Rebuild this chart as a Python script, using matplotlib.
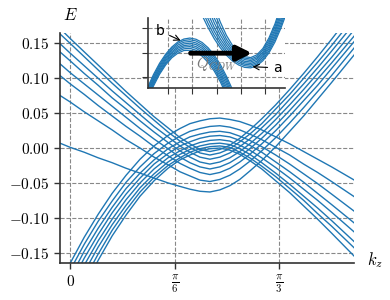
import numpy as np
import matplotlib
matplotlib.use("Agg")
import matplotlib.pyplot as plt

plt.rcParams['mathtext.fontset'] = 'cm'
plt.rcParams['font.family'] = ['DejaVu Sans']

# ---- main panel data: k_z grid and band energies E(k_z) ----
kz = [-0.06, 0.0, 0.07, 0.14, 0.21, 0.28, 0.35, 0.42, 0.49, 0.55, 0.60, 0.65, 0.70,
      0.75, 0.80, 0.85, 0.90, 0.96, 1.03, 1.10, 1.17, 1.24, 1.31, 1.43]

# bands coming down from the upper left and rising to the upper right
up0 = [0.008, 0.001, -0.006, -0.014, -0.021, -0.029, -0.036, -0.043, -0.050, -0.055, -0.059, -0.062, -0.063,
       -0.060, -0.054, -0.045, -0.033, -0.018, 0.002, 0.024, 0.046, 0.070, 0.094, 0.136]
up1 = [0.077, 0.066, 0.052, 0.039, 0.026, 0.012, 0.000, -0.013, -0.024, -0.034, -0.040, -0.046, -0.048,
       -0.045, -0.039, -0.030, -0.019, -0.004, 0.015, 0.036, 0.058, 0.081, 0.104, 0.146]
up2 = [0.106, 0.092, 0.077, 0.061, 0.046, 0.031, 0.017, 0.002, -0.011, -0.022, -0.029, -0.035, -0.038,
       -0.035, -0.029, -0.020, -0.009, 0.006, 0.025, 0.046, 0.068, 0.090, 0.114, 0.155]
up3 = [0.123, 0.108, 0.092, 0.076, 0.060, 0.044, 0.028, 0.013, -0.001, -0.013, -0.021, -0.027, -0.030,
       -0.027, -0.021, -0.012, -0.001, 0.014, 0.033, 0.054, 0.076, 0.099, 0.122, 0.163]
up4 = [0.140, 0.125, 0.107, 0.090, 0.072, 0.056, 0.039, 0.023, 0.008, -0.004, -0.013, -0.020, -0.023,
       -0.020, -0.014, -0.005, 0.006, 0.021, 0.041, 0.062, 0.084, 0.107, 0.130, 0.172]
up5 = [0.152, 0.136, 0.118, 0.100, 0.082, 0.065, 0.048, 0.031, 0.016, 0.003, -0.006, -0.013, -0.016,
       -0.013, -0.007, 0.002, 0.013, 0.029, 0.048, 0.070, 0.092, 0.115, 0.139, 0.181]
up6 = [0.166, 0.150, 0.131, 0.112, 0.093, 0.075, 0.057, 0.040, 0.023, 0.010, 0.001, -0.007, -0.010,
       -0.007, -0.001, 0.009, 0.020, 0.035, 0.056, 0.077, 0.100, 0.123, 0.147, 0.190]
up7 = [0.174, 0.157, 0.138, 0.119, 0.100, 0.081, 0.063, 0.045, 0.029, 0.015, 0.006, -0.002, -0.005,
       -0.002, 0.004, 0.014, 0.026, 0.042, 0.062, 0.084, 0.107, 0.131, 0.156, 0.200]

# bands rising from the lower left and falling to the lower right
lo0 = [-0.200, -0.165, -0.128, -0.095, -0.065, -0.039, -0.016, 0.003, 0.018, 0.028, 0.035, 0.039, 0.042,
       0.043, 0.041, 0.038, 0.033, 0.026, 0.016, 0.006, -0.005, -0.016, -0.027, -0.047]
lo1 = [-0.210, -0.175, -0.138, -0.105, -0.076, -0.049, -0.027, -0.008, 0.007, 0.017, 0.024, 0.028, 0.031,
       0.032, 0.030, 0.026, 0.020, 0.012, 0.001, -0.010, -0.023, -0.035, -0.048, -0.071]
lo2 = [-0.221, -0.186, -0.148, -0.115, -0.085, -0.058, -0.036, -0.017, -0.001, 0.009, 0.016, 0.020, 0.023,
       0.024, 0.022, 0.017, 0.011, 0.002, -0.010, -0.023, -0.037, -0.051, -0.066, -0.092]
lo3 = [-0.232, -0.196, -0.158, -0.124, -0.093, -0.066, -0.043, -0.023, -0.008, 0.003, 0.009, 0.014, 0.017,
       0.018, 0.016, 0.011, 0.004, -0.006, -0.020, -0.034, -0.049, -0.065, -0.081, -0.109]
lo4 = [-0.244, -0.207, -0.168, -0.133, -0.102, -0.074, -0.050, -0.030, -0.014, -0.004, 0.003, 0.008, 0.011,
       0.012, 0.010, 0.004, -0.003, -0.014, -0.028, -0.043, -0.059, -0.075, -0.092, -0.122]
lo5 = [-0.250, -0.219, -0.178, -0.142, -0.110, -0.082, -0.057, -0.037, -0.020, -0.009, -0.002, 0.003, 0.006,
       0.007, 0.005, -0.001, -0.009, -0.021, -0.036, -0.052, -0.069, -0.086, -0.104, -0.136]
lo6 = [-0.250, -0.231, -0.189, -0.152, -0.118, -0.089, -0.063, -0.042, -0.025, -0.014, -0.006, -0.001, 0.002,
       0.003, 0.001, -0.006, -0.014, -0.026, -0.041, -0.058, -0.075, -0.094, -0.112, -0.145]
lo7 = [-0.250, -0.244, -0.200, -0.161, -0.126, -0.096, -0.069, -0.047, -0.029, -0.017, -0.010, -0.004, -0.001,
       0.000, -0.003, -0.009, -0.018, -0.030, -0.047, -0.064, -0.083, -0.102, -0.122, -0.157]

yticks = [-0.15, -0.10, -0.05, 0.0, 0.05, 0.10, 0.15]
ytick_labels = ['$-0.15$', '$-0.10$', '$-0.05$', '$0.00$', '$0.05$', '$0.10$', '$0.15$']
xticks = [0.0, np.pi / 6, np.pi / 3]
xtick_labels = ['$0$', r'$\frac{\pi}{6}$', r'$\frac{\pi}{3}$']

# ---- inset data (arbitrary units) ----
xa = [-0.85, -0.6, -0.35, -0.1, 0.15, 0.4, 0.65, 0.9, 1.15, 1.4, 1.65, 1.9, 2.15, 2.4, 2.65, 2.9]
ia0 = [-0.44, 0.11, 0.57, 0.94, 1.23, 1.44, 1.56, 1.60, 1.55, 1.42, 1.20, 0.90, 0.52, 0.04, -0.51, -1.15]
ia1 = [-0.51, 0.04, 0.50, 0.88, 1.17, 1.38, 1.50, 1.53, 1.48, 1.34, 1.12, 0.81, 0.42, -0.06, -0.63, -1.28]
ia2 = [-0.58, -0.03, 0.44, 0.81, 1.11, 1.31, 1.43, 1.46, 1.40, 1.26, 1.03, 0.72, 0.32, -0.17, -0.75, -1.41]
ia3 = [-0.65, -0.10, 0.37, 0.75, 1.04, 1.24, 1.36, 1.39, 1.33, 1.18, 0.95, 0.62, 0.21, -0.28, -0.87, -1.50]
ia4 = [-0.72, -0.16, 0.31, 0.69, 0.98, 1.18, 1.29, 1.32, 1.25, 1.10, 0.86, 0.53, 0.11, -0.40, -0.99, -1.50]
ia5 = [-0.79, -0.23, 0.24, 0.62, 0.91, 1.11, 1.23, 1.25, 1.18, 1.02, 0.77, 0.44, 0.01, -0.51, -1.11, -1.50]
ia6 = [-0.85, -0.29, 0.18, 0.56, 0.85, 1.05, 1.16, 1.18, 1.10, 0.94, 0.69, 0.34, -0.09, -0.62, -1.23, -1.50]
ia7 = [-0.92, -0.36, 0.12, 0.50, 0.79, 0.98, 1.09, 1.10, 1.03, 0.86, 0.60, 0.25, -0.19, -0.73, -1.36, -1.50]

xb = [1.15, 1.4, 1.65, 1.9, 2.15, 2.4, 2.65, 2.9, 3.15, 3.4, 3.65, 3.9, 4.15, 4.4, 4.65, 4.85]
ib0 = [3.11, 2.53, 2.02, 1.57, 1.20, 0.90, 0.66, 0.50, 0.40, 0.38, 0.46, 0.67, 0.99, 1.44, 2.02, 2.56]
ib1 = [3.36, 2.74, 2.19, 1.71, 1.32, 0.99, 0.74, 0.57, 0.47, 0.44, 0.53, 0.74, 1.07, 1.54, 2.13, 2.70]
ib2 = [3.50, 2.96, 2.38, 1.87, 1.44, 1.09, 0.82, 0.64, 0.53, 0.50, 0.59, 0.81, 1.16, 1.64, 2.25, 2.84]
ib3 = [3.50, 3.22, 2.58, 2.03, 1.57, 1.20, 0.91, 0.71, 0.59, 0.56, 0.65, 0.88, 1.24, 1.74, 2.38, 2.98]
ib4 = [3.50, 3.50, 2.81, 2.22, 1.72, 1.31, 1.00, 0.78, 0.65, 0.62, 0.72, 0.95, 1.33, 1.85, 2.51, 3.14]
ib5 = [3.50, 3.50, 3.07, 2.42, 1.88, 1.43, 1.09, 0.85, 0.72, 0.68, 0.78, 1.02, 1.42, 1.95, 2.64, 3.30]
ib6 = [3.50, 3.50, 3.36, 2.65, 2.05, 1.56, 1.19, 0.93, 0.78, 0.74, 0.84, 1.10, 1.51, 2.07, 2.78, 3.46]
ib7 = [3.50, 3.50, 3.50, 2.91, 2.25, 1.71, 1.30, 1.01, 0.84, 0.80, 0.91, 1.17, 1.60, 2.18, 2.93, 3.50]

C = '#1f77b4'
SP = '#333333'
GR = '#888888'

fig = plt.figure(figsize=(3.9, 3.0), dpi=100)
ax = fig.add_axes([0.153, 0.123, 0.755, 0.767])
for E in (up0, up1, up2, up3, up4, up5, up6, up7, lo0, lo1, lo2, lo3, lo4, lo5, lo6, lo7):
    ax.plot(kz, E, color=C, lw=1.0)

ax.set_xlim(-0.053, 1.423)
ax.set_ylim(-0.165, 0.165)
ax.set_xticks(xticks)
ax.set_xticklabels(xtick_labels)
ax.set_yticks(yticks)
ax.set_yticklabels(ytick_labels)
ax.tick_params(labelsize=11, color=SP, length=4, width=1)
ax.grid(True, ls='--', color=GR, lw=0.8)
ax.set_axisbelow(True)
for sp in ['top', 'right']:
    ax.spines[sp].set_visible(False)
for sp in ['left', 'bottom']:
    ax.spines[sp].set_color(SP)
    ax.spines[sp].set_linewidth(1.2)
ax.text(0.036, 1.08, '$E$', transform=ax.transAxes, fontsize=12, ha='center', va='center')
ax.text(1.07, 0.013, '$k_z$', transform=ax.transAxes, fontsize=12, ha='center', va='center')

ins = fig.add_axes([0.379, 0.707, 0.351, 0.233])
for y in (ia0, ia1, ia2, ia3, ia4, ia5, ia6, ia7):
    ins.plot(xa, y, color=C, lw=0.9)
for y in (ib0, ib1, ib2, ib3, ib4, ib5, ib6, ib7):
    ins.plot(xb, y, color=C, lw=0.9)
ins.set_xlim(-0.835, 4.8)
ins.set_ylim(-0.44, 2.42)
ins.set_xticks([0, 1, 2, 3, 4])
ins.set_yticks([0, 1, 2])
ins.set_xticklabels([])
ins.set_yticklabels([])
ins.grid(True, ls='--', color=GR, lw=0.8)
ins.tick_params(color=SP, length=4)
for sp in ['top', 'right']:
    ins.spines[sp].set_visible(False)
for sp in ['left', 'bottom']:
    ins.spines[sp].set_color(SP)
    ins.spines[sp].set_linewidth(1.2)
ins.annotate('', xy=(3.57, 0.98), xytext=(0.81, 0.98),
             arrowprops=dict(arrowstyle='-|>', lw=3.5, color='k', mutation_scale=22))
ins.text(2.0, 0.54, '$Q_{CDW}$', color='#777777', fontsize=11, ha='center', va='center')
ins.annotate('b', xy=(0.62, 1.45), xytext=(-0.34, 1.89), fontsize=10, ha='center', va='center',
             arrowprops=dict(arrowstyle='->', lw=0.8, color='k'))
ins.annotate('a', xy=(3.36, 0.43), xytext=(4.5, 0.38), fontsize=10, ha='center', va='center',
             arrowprops=dict(arrowstyle='->', lw=0.8, color='k'))

fig.savefig('out.png', dpi=100)
